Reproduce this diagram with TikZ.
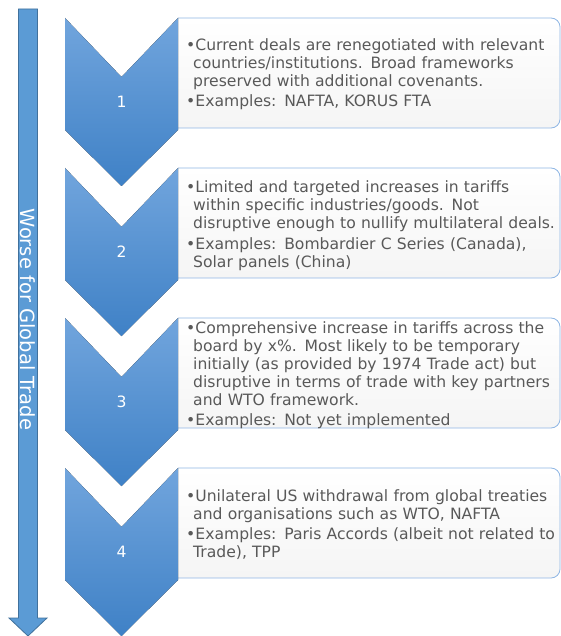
\documentclass[tikz,border=0pt]{standalone}
\usepackage{fontspec}
\setmainfont{DejaVu Sans}
\usetikzlibrary{positioning, backgrounds}

\definecolor{chevtop}{RGB}{113,165,221}
\definecolor{chevbottom}{RGB}{63,129,198}
\definecolor{trendblue}{RGB}{91,155,213}
\definecolor{trendedge}{RGB}{65,113,156}
\definecolor{frameblue}{RGB}{143,182,228}
\definecolor{notegray}{RGB}{89,89,89}

% one bullet point, later lines hung under its text
\newcommand{\notepoint}[1]{\par\noindent\leftskip=4pt\hangindent=7pt\hangafter=1\textbullet#1\par\parskip=2.5pt}

\begin{document}
\begin{tikzpicture}[x=1pt, y=-1pt,
        chevron/.style = {top color=chevtop, bottom color=chevbottom},
        stagenum/.style = {text=white, font=\fontsize{15.6}{18}\selectfont},
        note/.style = {anchor=west, text width=374pt, inner xsep=4pt, inner ysep=0pt, align=left, text=notegray, font=\fontsize{15.6}{18}\selectfont},
        noteframe/.style = {draw=frameblue, line width=0.8pt, rounded corners=9pt, top color=white, bottom color=black!4}
    ]
        \useasboundingbox (0,0) rectangle (561,636);

        % trend arrow on the left
        \draw[fill=trendblue, draw=trendedge, line width=0.8pt] (18.5,9) -- (37.5,9) -- (37.5,618) -- (47,618) -- (28,636) -- (9,618) -- (18.5,618) -- cycle;
        \node[rotate=-90, text=white, font=\fontsize{19.5}{20}\selectfont] (trend) at (28,319.5) {Worse for Global Trade};

        \node[note] (note1) at (178,71) {\notepoint{Current deals are renegotiated with relevant\newline countries/institutions. Broad frameworks\newline preserved with additional covenants.}\notepoint{Examples: NAFTA, KORUS FTA}};
        \node[note] (note2) at (178,222.5) {\notepoint{Limited and targeted increases in tariffs\newline within specific industries/goods. Not\newline disruptive enough to nullify multilateral deals.}\notepoint{Examples: Bombardier C Series (Canada),\newline Solar panels (China)}};
        \node[note] (note3) at (178,372) {\notepoint{Comprehensive increase in tariffs across the\newline board by x\%. Most likely to be temporary\newline initially (as provided by 1974 Trade act) but\newline disruptive in terms of trade with key partners\newline and WTO framework.}\notepoint{Examples: Not yet implemented}};
        \node[note] (note4) at (178,521.5) {\notepoint{Unilateral US withdrawal from global treaties\newline and organisations such as WTO, NAFTA}\notepoint{Examples: Paris Accords (albeit not related to\newline Trade), TPP}};

        % each stage: a frame open on the left, a chevron there, its number
        \foreach \i/\y in {1/18,2/168,3/318,4/468} {
            \coordinate (corner\i) at (178,\y);
            \begin{scope}[on background layer]
                \draw[noteframe] ([yshift=-110pt]corner\i) -- ++(382,0) -- ++(0,-110) -- ++(-382,0);
            \end{scope}
            \fill[chevron] (corner\i) -- ++(-56.5,59) -- ++(-56.5,-59) -- ++(0,112) -- ++(56.5,56) -- ++(56.5,-56) -- cycle;
            \node[stagenum] (stage\i) at ([shift={(-56.5,84)}]corner\i) {\i};
        }
    \end{tikzpicture}
\end{document}
